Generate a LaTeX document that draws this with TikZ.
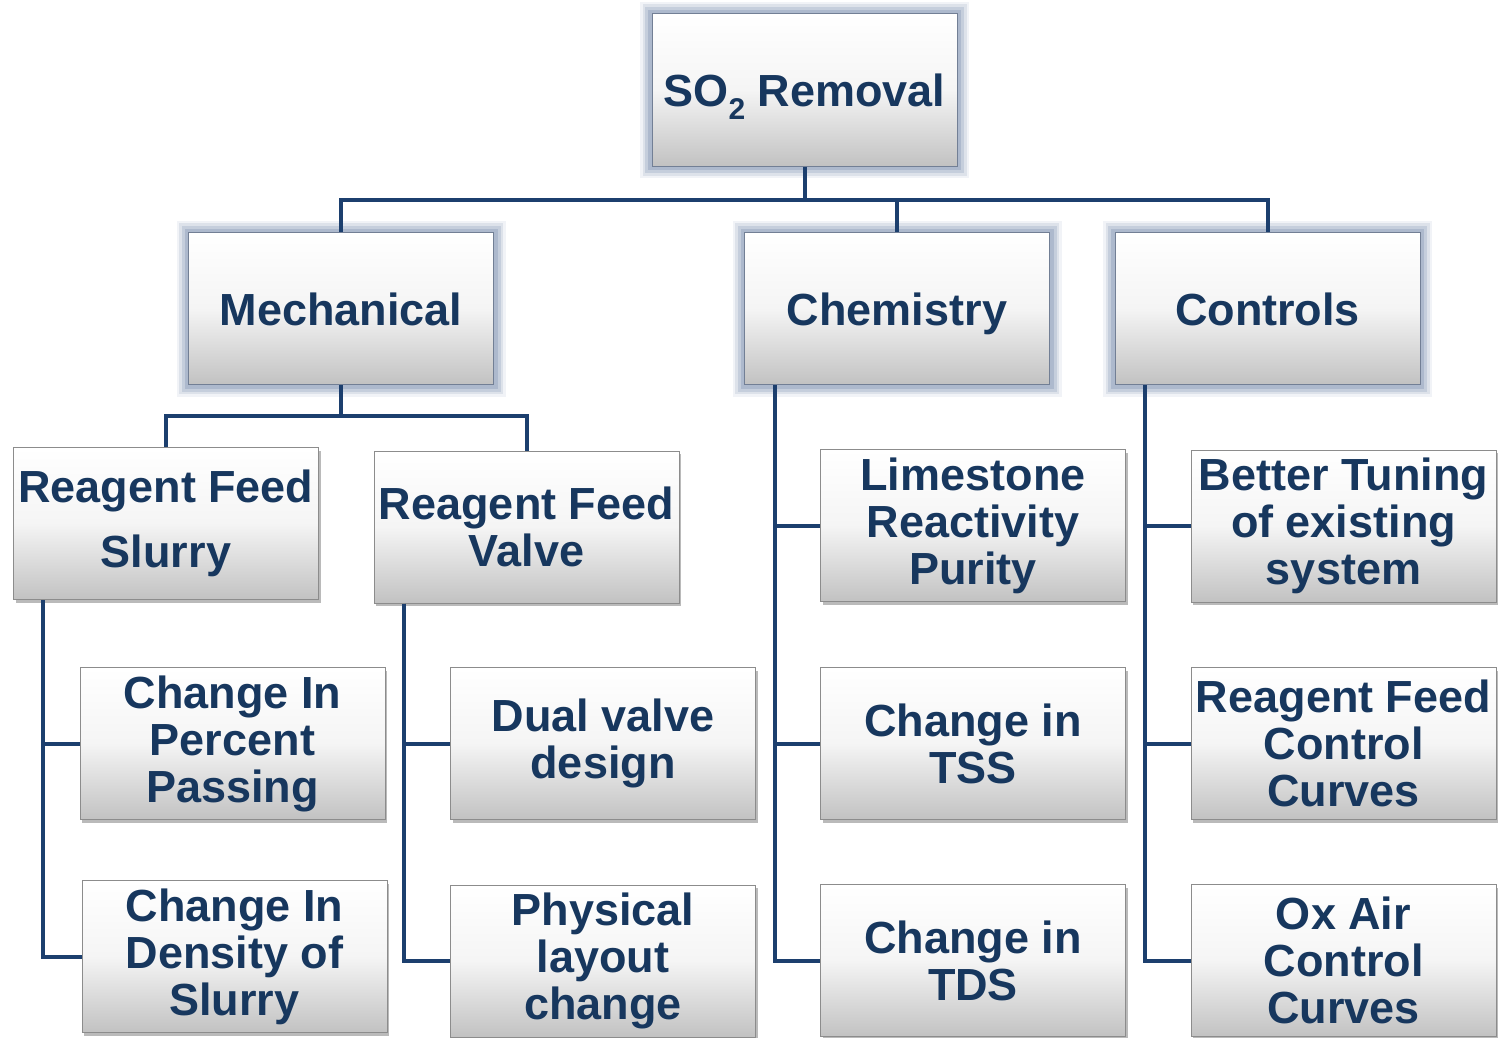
\documentclass[tikz,border=0pt]{standalone}
\usepackage{fontspec}
\setmainfont{Liberation Sans}
\usetikzlibrary{shadows}
\definecolor{txtblue}{HTML}{17375E}
\definecolor{lineblue}{HTML}{1C3F6E}
\definecolor{glowc}{HTML}{8E9FBA}
\definecolor{boxedge}{HTML}{8C8C8C}
\tikzset{
  box/.style={rectangle, draw=boxedge, line width=1pt, top color=white, bottom color=black!24,
    middle color=black!4, minimum width=305pt, minimum height=152pt, inner sep=0pt,
    align=center, text=txtblue, font=\fontsize{45}{47}\selectfont\bfseries},
  leaf/.style={box, drop shadow={shadow xshift=2pt, shadow yshift=-3pt, opacity=0.45, fill=black!60}},
  topbox/.style={box, draw=glowc!80!black, text height=33pt, text depth=0pt,
    preaction={draw=glowc, line width=24pt, opacity=0.12, rounded corners=10pt},
    preaction={draw=glowc, line width=19pt, opacity=0.2, rounded corners=8pt},
    preaction={draw=glowc, line width=14pt, opacity=0.3, rounded corners=6pt},
    preaction={draw=glowc, line width=8pt, opacity=0.45, rounded corners=3pt}},
  conn/.style={draw=lineblue, line width=4pt}
}
\begin{document}
\begin{tikzpicture}[x=1pt,y=-1pt]
\useasboundingbox (0,0) rectangle (1499,1038);
% top level
\node[topbox] (so) at (804.5,90) {SO\raisebox{-0.28em}{\fontsize{30}{30}\selectfont 2} Removal};
\node[topbox] (mech) at (341,308.5) {Mechanical};
\node[topbox] (chem) at (897,308.5) {Chemistry};
\node[topbox] (ctrl) at (1267.5,308.5) {Controls};
% second level
\node[leaf] (rfs) at (166,523.5) {Reagent Feed\\[18pt]Slurry};
\node[leaf] (rfv) at (526.5,527) {Reagent Feed\\Valve};
\node[leaf] (lrp) at (973,525.5) {Limestone\\Reactivity\\Purity};
\node[leaf] (bts) at (1343.5,526) {Better Tuning\\of existing\\system};
% third level
\node[leaf] (cpp) at (232.5,743.5) {Change In\\Percent\\Passing};
\node[leaf] (dvd) at (603,743.5) {Dual valve\\design};
\node[leaf] (tss) at (973,743.5) {Change in\\TSS};
\node[leaf] (rfc) at (1343.5,743.5) {Reagent Feed\\Control\\Curves};
% fourth level
\node[leaf] (cds) at (234.5,956.5) {Change In\\Density of\\Slurry};
\node[leaf] (plc) at (603,961) {Physical\\layout\\change};
\node[leaf] (tds) at (973,960.5) {Change in\\TDS};
\node[leaf] (oac) at (1343.5,960.5) {Ox Air\\Control\\Curves};
% connectors
\coordinate (jt) at (804.5,200);
\coordinate (jm) at (341,416);
\draw[conn] (so.south) -- (jt);
\draw[conn] (mech.north) |- (jt) -| (ctrl.north);
\draw[conn] (chem.north) -- (chem.north |- jt);
\draw[conn] (mech.south) -- (jm);
\draw[conn] (rfs.north) |- (jm) -| (rfv.north);
\draw[conn] ([xshift=30]rfs.south west) |- (cds.west);
\draw[conn] ([xshift=30]rfs.south west) |- (cpp.west);
\draw[conn] ([xshift=30]rfv.south west) |- (plc.west);
\draw[conn] ([xshift=30]rfv.south west) |- (dvd.west);
\draw[conn] ([xshift=31]chem.south west) |- (tds.west);
\draw[conn] ([xshift=31]chem.south west) |- (tss.west);
\draw[conn] ([xshift=31]chem.south west) |- (lrp.west);
\draw[conn] ([xshift=30]ctrl.south west) |- (oac.west);
\draw[conn] ([xshift=30]ctrl.south west) |- (rfc.west);
\draw[conn] ([xshift=30]ctrl.south west) |- (bts.west);
\end{tikzpicture}
\end{document}
